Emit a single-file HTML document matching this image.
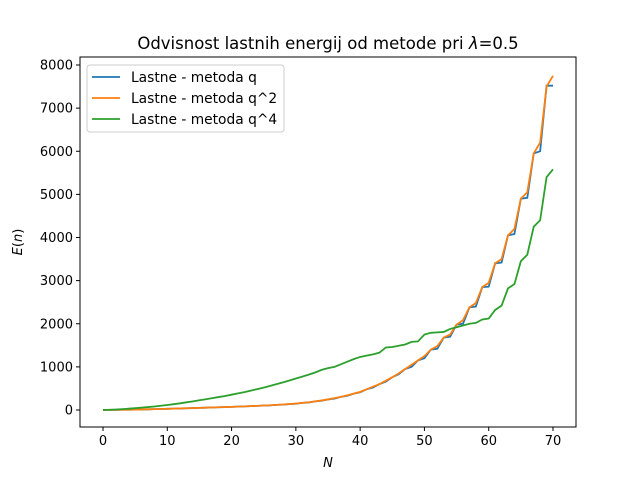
<!DOCTYPE html>
<html><head><meta charset="utf-8"><style>
body{margin:0;background:#fff}
svg{display:block;font-family:"DejaVu Sans","Liberation Sans",sans-serif}
</style></head><body>
<svg id="c" width="640" height="480"></svg>
<script>
const nValues=[];for(let i=0;i<=70;i++)nValues.push(i);
const orangeValues=[0,1,3,5,7,10,13,16,20,24,28,32,36,40,45,49,54,58,63,68,72,78,84,90,96,104,110,118,128,138,150,165,180,200,222,245,275,305,340,380,420,480,540,600,680,760,850,950,1050,1150,1250,1400,1480,1680,1750,1980,2080,2380,2480,2850,2950,3400,3500,4050,4200,4900,5050,5950,6200,7500,7750];
const blueValues=[0,1,3,5,7,10,13,16,20,24,28,32,36,40,45,49,54,58,63,68,72,78,84,90,96,104,108,118,125,138,145,165,175,200,215,245,265,305,330,380,410,480,520,600,660,760,830,950,1000,1150,1200,1400,1420,1680,1700,1980,2000,2380,2400,2850,2860,3400,3420,4050,4080,4900,4920,5950,6000,7520,7520];
const greenValues=[0,5,12,20,30,42,55,68,82,98,115,135,155,178,200,225,250,275,300,325,355,385,415,450,485,520,560,600,640,685,730,775,820,870,930,970,1000,1060,1120,1180,1230,1260,1290,1330,1450,1460,1490,1520,1580,1590,1750,1790,1800,1810,1880,1920,1960,2000,2020,2100,2120,2320,2420,2820,2920,3450,3600,4250,4400,5400,5580];
const xTicks=[0,10,20,30,40,50,60,70];
const yTicks=[0,1000,2000,3000,4000,5000,6000,7000,8000];
const X=v=>103+v*450/70, Y=v=>410-v*0.043125;
const s=document.getElementById('c'),NS='http://www.w3.org/2000/svg';
function el(t,a,p){const e=document.createElementNS(NS,t);for(const k in a)e.setAttribute(k,a[k]);(p||s).appendChild(e);return e;}
let t=el('text',{x:328,y:49,'text-anchor':'middle','font-size':16.5});t.innerHTML='Odvisnost lastnih energij od metode pri <tspan font-style="italic">λ</tspan>=0.5';


function line(vals,col,name){const p=el('polyline',{points:nValues.map((n,i)=>X(n)+','+Y(vals[i])).join(' '),fill:'none',stroke:col,'stroke-width':1.8});

}
line(blueValues,'#1f77b4','series-metoda-q');
line(orangeValues,'#ff7f0e','series-metoda-q2');
line(greenValues,'#2ca02c','series-metoda-q4');
const f=el('rect',{x:80,y:57,width:496,height:370,fill:'none',stroke:'#000','stroke-width':1});


xTicks.forEach(v=>{el('line',{x1:X(v),x2:X(v),y1:427,y2:431,stroke:'#000'});const tt=el('text',{x:X(v),y:445,'text-anchor':'middle','font-size':13});tt.textContent=v;

});
yTicks.forEach(v=>{el('line',{x1:76,x2:80,y1:Y(v),y2:Y(v),stroke:'#000'});const tt=el('text',{x:73,y:Y(v)+4.5,'text-anchor':'end','font-size':13});tt.textContent=v;

});
t=el('text',{x:328,y:467,'text-anchor':'middle','font-size':13,'font-style':'italic'});t.textContent='N';


t=el('text',{x:22,y:242,'text-anchor':'middle','font-size':13,transform:'rotate(-90 22 242)'});t.innerHTML='<tspan font-style="italic">E</tspan>(<tspan font-style="italic">n</tspan>)';


const lg=el('g',{});


el('rect',{x:87,y:65,width:197,height:67,rx:3,fill:'#fff',stroke:'#ccc'},lg);
[['Lastne - metoda q','#1f77b4'],['Lastne - metoda q^2','#ff7f0e'],['Lastne - metoda q^4','#2ca02c']].forEach((d,i)=>{const y=77+i*21;
el('line',{x1:92,x2:120,y1:y,y2:y,stroke:d[1],'stroke-width':1.8},lg);
const tt=el('text',{x:131,y:y+5,'font-size':13.8},lg);tt.textContent=d[0];

});
</script>
</body></html>
